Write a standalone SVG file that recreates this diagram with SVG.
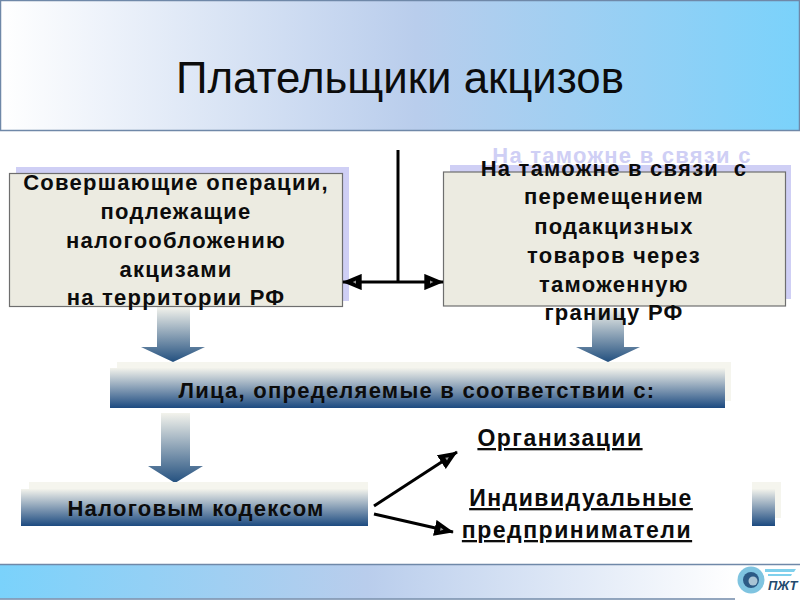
<svg xmlns="http://www.w3.org/2000/svg" width="800" height="600" viewBox="0 0 800 600">
<style>
text{font-family:"Liberation Sans",Arial,sans-serif;fill:#0c0c0c}
.b{font-weight:bold;font-size:22px;text-anchor:middle;letter-spacing:1.25px}
.u{text-decoration:underline;font-size:23px;letter-spacing:1.5px}
.box{fill:#ecebe1;stroke:#6e6e6e;stroke-width:1.2}
.sh{fill:#cfcff5}
.back{fill:#f5f5ee}
.bar{fill:url(#bar)}
.arr{fill:url(#arr)}
.c{fill:none;stroke:#000;stroke-width:3}
</style>
<defs>
<linearGradient id="hdr" x1="0" x2="1" y1="0" y2="0"><stop offset="0" stop-color="#fff"/><stop offset=".52" stop-color="#b9cdec"/><stop offset="1" stop-color="#7ad2fb"/></linearGradient>
<linearGradient id="ftr" x1="0" x2="1" y1="0" y2="0"><stop offset="0" stop-color="#7ad2fb"/><stop offset=".5" stop-color="#b9cdec"/><stop offset="1" stop-color="#fff"/></linearGradient>
<linearGradient id="bar" x1="0" x2="0" y1="0" y2="1"><stop offset="0" stop-color="#f3f3ec"/><stop offset="1" stop-color="#1c4a80"/></linearGradient>
<linearGradient id="arr" x1="0" x2="0" y1="0" y2="1"><stop offset="0" stop-color="#f3f3ec"/><stop offset="1" stop-color="#23507f"/></linearGradient>
<marker id="ah" viewBox="0 0 12 10" refX="11.5" refY="5" markerWidth="6.5" markerHeight="5.5" orient="auto-start-reverse"><path d="M0 0L12 5L0 10Z" fill="#000"/><path d="M3.500 4L5.500 5L3.500 6Z" fill="#999"/></marker>
</defs>
<g id="header"><rect x=".5" y=".5" width="799" height="130" fill="url(#hdr)" stroke="#6f88a8" stroke-width="1.5"/>
<text x="400" y="93" font-size="43.800" text-anchor="middle">Плательщики акцизов</text></g>
<g id="arrows"><path class="arr" d="M157 307H190V347H205L173 362L141 347H157Z"/><path class="arr" d="M592 308H624V347H640L608 362L576 347H592Z"/><path class="arr" d="M161 413H190V466H203L175 483L148 466H161Z"/></g>
<g id="node-left"><rect class="sh" x="16" y="167" width="333" height="134"/><rect class="box" x="9.5" y="173.500" width="333" height="133"/>
<text class="b"><tspan x="176" y="190">Совершающие операции,</tspan><tspan x="176" y="219">подлежащие</tspan><tspan x="176" y="248">налогообложению</tspan><tspan x="176" y="277">акцизами</tspan><tspan x="176" y="305">на территории РФ</tspan></text></g>
<g id="node-right"><text class="b" x="622" y="163" style="fill:#cfcff5">На таможне в связи  с</text><rect class="sh" x="450" y="165" width="341" height="134"/><rect class="box" x="443.500" y="172" width="342" height="134"/>
<text class="b" xml:space="preserve"><tspan x="614" y="176">На таможне в связи  с</tspan><tspan x="614" y="204">перемещением</tspan><tspan x="614" y="234">подакцизных</tspan><tspan x="614" y="263">товаров через</tspan><tspan x="614" y="292">таможенную</tspan><tspan x="614" y="320">границу РФ</tspan></text></g>
<g id="node-persons"><rect class="back" x="117" y="362" width="614" height="39"/><rect class="bar" x="110" y="368" width="615" height="40"/>
<text class="b" x="417" y="398">Лица, определяемые в соответствии с:</text></g>
<g id="node-code"><rect class="back" x="29" y="482" width="339" height="36"/><rect class="bar" x="21" y="489" width="347" height="37"/>
<text class="b" x="196" y="516">Налоговым кодексом</text></g>
<g id="node-fragment"><rect class="back" x="752" y="482" width="29" height="36"/><rect class="bar" x="752" y="489" width="23" height="37"/></g>
<g id="node-org"><text class="b u" x="560" y="446">Организации</text></g>
<g id="node-ip"><text class="b u" x="581" y="506">Индивидуальные</text><text class="b u" x="577" y="538">предприниматели</text></g>
<g id="connectors"><path class="c" d="M398 150V283"/><path class="c" d="M343 282H443" marker-start="url(#ah)" marker-end="url(#ah)"/><path class="c" d="M374 506L457 452" marker-end="url(#ah)"/><path class="c" d="M374 514L453 532" marker-end="url(#ah)"/></g>
<g id="footer"><rect x="0" y="564.500" width="735" height="34" fill="url(#ftr)"/><path d="M0 564.500H800" stroke="#6f88a8" stroke-width="1.500"/><path d="M0 599H735" stroke="#6f88a8" stroke-width="1.500"/>
<circle cx="751" cy="580" r="13.500" fill="#7fc4e0"/><circle cx="751" cy="580" r="8" fill="#2c5a85"/><circle cx="753" cy="581" r="4.500" fill="#a9c4d4"/>
<path d="M765 569H796L794 572H765ZM768 574H792L791 576H768Z" fill="#7fd0ec"/>
<text x="768" y="590" font-size="13" font-weight="bold" font-style="italic" style="fill:#234a6e">ПЖТ</text></g>
</svg>
